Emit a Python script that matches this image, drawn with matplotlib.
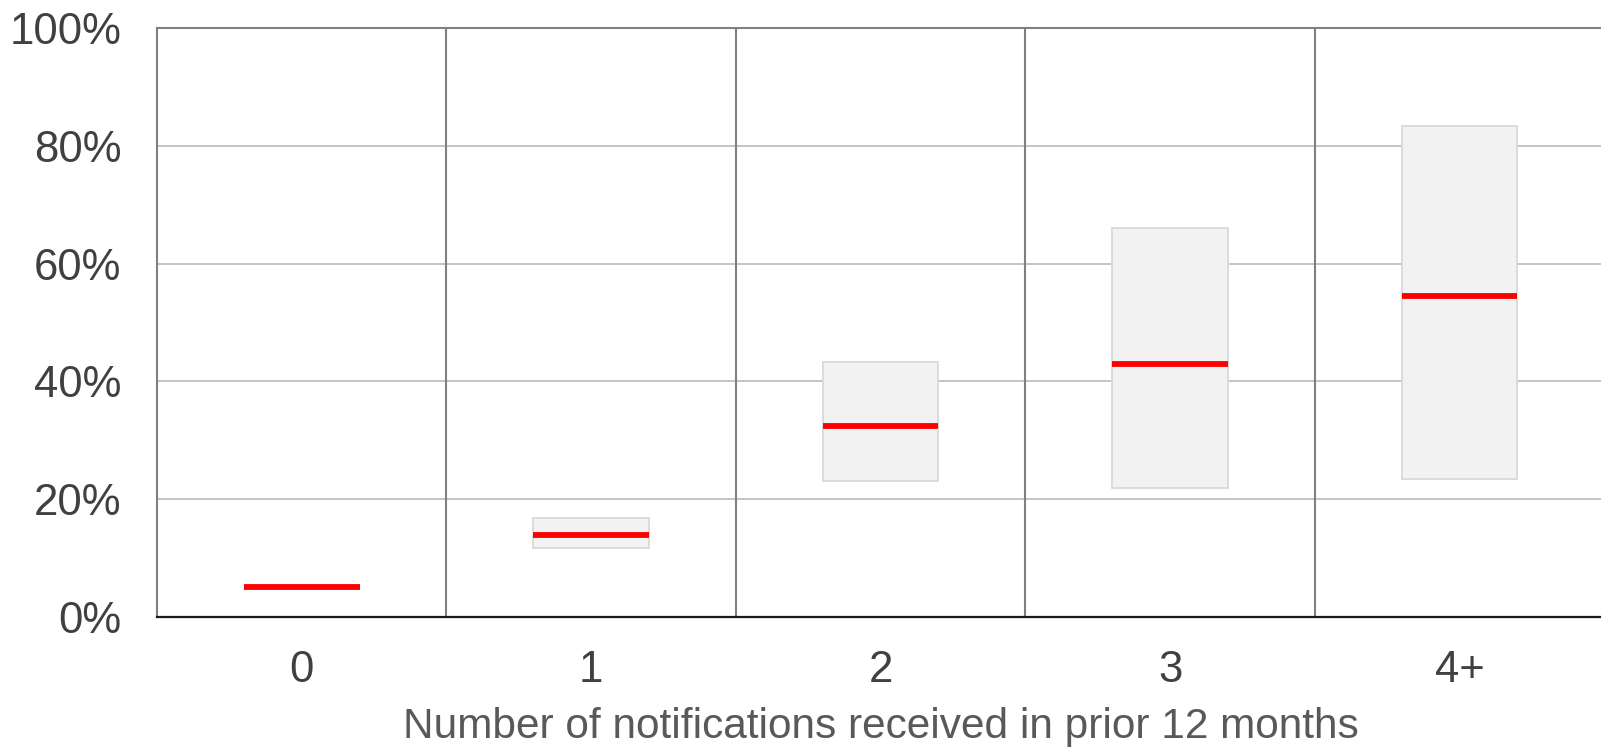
import matplotlib
matplotlib.use("Agg")
import matplotlib.pyplot as plt
import numpy as np

categories = ["0", "1", "2", "3", "4+"]
low = [0.0, 11.7, 23.1, 21.9, 23.4]
high = [0.0, 16.8, 43.3, 66.0, 83.3]
median = [5.1, 14.0, 32.5, 42.9, 54.5]
yticks = [0, 20, 40, 60, 80, 100]
ytick_labels = ["0%", "20%", "40%", "60%", "80%", "100%"]

plt.rcParams['font.family'] = ['Liberation Sans', 'DejaVu Sans']

fig = plt.figure(figsize=(16.01, 7.47), dpi=100)
ax = fig.add_axes([157/1601, 1 - 617/747, 1 - 157/1601 + 0.002, (617-28)/747])

x = np.arange(len(categories))
ax.set_xlim(-0.5, len(categories) - 0.5)
ax.set_ylim(0, 100)

# grid
for yv in yticks[1:-1]:
    ax.axhline(yv, color="#bfbfbf", lw=1.3, zorder=0)
for xv in x[:-1] + 0.5:
    ax.axvline(xv, color="#808080", lw=1.5, zorder=1)

heights = [h - l for h, l in zip(high, low)]
ax.bar(x, heights, bottom=low, width=0.4, color="#f2f2f2", edgecolor="#d9d9d9",
       linewidth=1.3, zorder=2)
ax.hlines(median, x - 0.2, x + 0.2, colors="#ff0000", lw=4.2, zorder=3)

for s in ["left", "top"]:
    ax.spines[s].set_color("#808080")
    ax.spines[s].set_linewidth(1.5)
ax.spines["right"].set_visible(False)
ax.spines["bottom"].set_color("#1a1a1a")
ax.spines["bottom"].set_linewidth(1.6)

ax.set_yticks(yticks)
ax.set_yticklabels(ytick_labels)
ax.set_xticks(x)
ax.set_xticklabels(categories)
ax.tick_params(axis="y", length=0, pad=25.5, labelsize=31.5, labelcolor="#404040")
ax.tick_params(axis="x", length=0, pad=23.5, labelsize=31.5, labelcolor="#404040")
ax.set_xlabel("Number of notifications received in prior 12 months", fontsize=30.5,
              color="#595959", labelpad=12)

fig.savefig("out.png", dpi=100)
